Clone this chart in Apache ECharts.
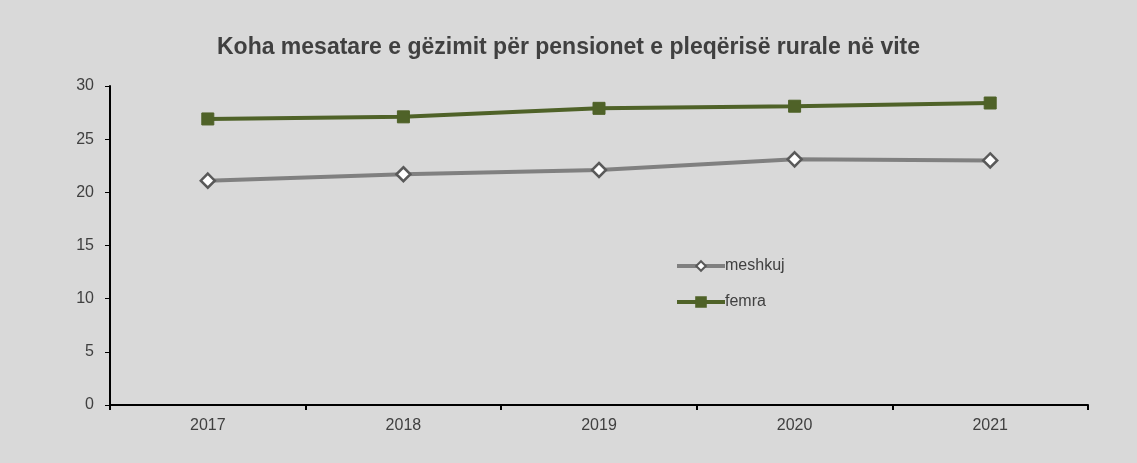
<!DOCTYPE html>
<html>
<head>
<meta charset="utf-8">
<script src="https://cdn.jsdelivr.net/npm/echarts@6/dist/echarts.min.js"></script>
<style>
html, body { margin: 0; padding: 0; background: #d9d9d9; }
#main { width: 1137px; height: 463px; }
</style>
</head>
<body>
<div id="main"></div>
<script>
// te dhenat
var years = ['2017', '2018', '2019', '2020', '2021'];
var meshkuj = [21.1, 21.7, 22.1, 23.1, 23.0];
var femra = [26.9, 27.1, 27.9, 28.1, 28.4];

var font = 'Liberation Sans, Arial, sans-serif';
var chart = echarts.init(document.getElementById('main'));
var option = {
    backgroundColor: '#d9d9d9',
    animation: false,
    title: {
        text: 'Koha mesatare e gëzimit për pensionet e pleqërisë rurale në vite',
        left: 'center',
        top: 31,
        textStyle: { fontFamily: font, fontSize: 23, fontWeight: 'bold', color: '#404040' }
    },
    legend: {
        orient: 'vertical',
        left: 670,
        top: 253,
        itemGap: 20,
        itemWidth: 48,
        itemHeight: 12,
        lineStyle: { width: 4 },
        textStyle: { fontFamily: font, fontSize: 16, color: '#404040', padding: [0, 0, 0, -5] },
        data: ['meshkuj', 'femra']
    },
    grid: { left: 110, right: 49, top: 86, bottom: 58 },
    xAxis: {
        type: 'category',
        data: years,
        boundaryGap: true,
        axisLine: { lineStyle: { color: '#000', width: 2 } },
        axisTick: { show: true, length: 5, lineStyle: { color: '#000', width: 2 } },
        axisLabel: { fontFamily: font, fontSize: 16, color: '#404040', margin: 13 }
    },
    yAxis: {
        type: 'value',
        min: 0,
        max: 30,
        interval: 5,
        splitLine: { show: false },
        axisLine: { show: true, lineStyle: { color: '#000', width: 2 } },
        axisTick: { show: true, length: 5, lineStyle: { color: '#000', width: 1 } },
        axisLabel: { fontFamily: font, fontSize: 16, color: '#404040', margin: 16 }
    },
    series: [
        {
            name: 'meshkuj',
            type: 'line',
            data: meshkuj,
            symbol: 'diamond',
            symbolSize: 14,
            lineStyle: { color: '#808080', width: 4 },
            itemStyle: { color: '#ffffff', borderColor: '#595959', borderWidth: 2.5 }
        },
        {
            name: 'femra',
            type: 'line',
            data: femra,
            symbol: 'rect',
            symbolSize: 12,
            lineStyle: { color: '#4f6228', width: 4 },
            itemStyle: { color: '#4f6228', borderColor: '#4f6228', borderWidth: 1 }
        }
    ]
};
chart.setOption(option);
</script>
</body>
</html>
